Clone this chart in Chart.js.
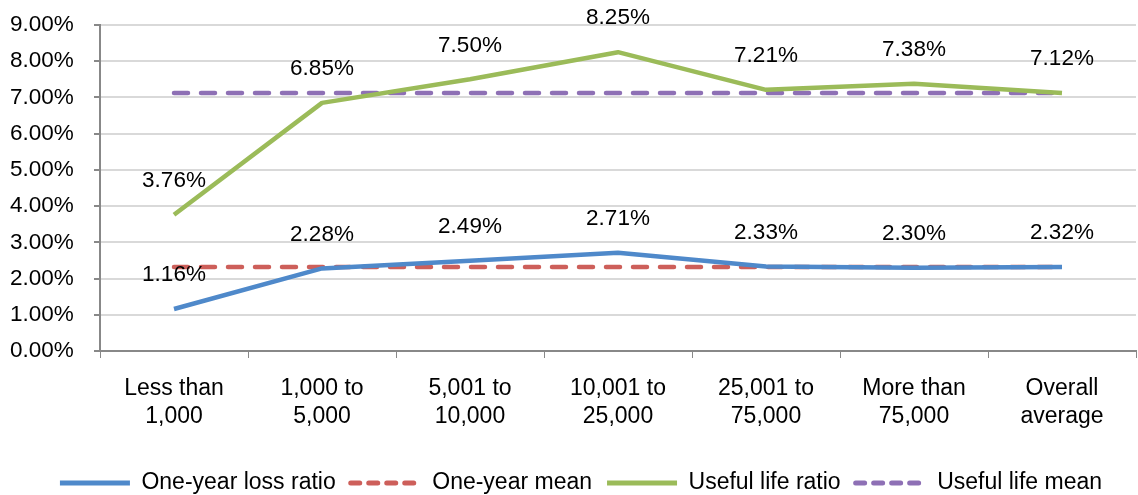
<!DOCTYPE html>
<html>
<head>
<meta charset="utf-8">
<title>Loss ratios by size</title>
<script src="https://cdn.jsdelivr.net/npm/chart.js@4/dist/chart.umd.min.js"></script>
<style>
  html, body { margin: 0; padding: 0; background: #fff; }
  #wrap { width: 1138px; height: 495px; }
</style>
</head>
<body>
<div id="wrap"><canvas id="chart"></canvas></div>
<script>
  // Data
  var categories = [
    ['Less than', '1,000'],
    ['1,000 to', '5,000'],
    ['5,001 to', '10,000'],
    ['10,001 to', '25,000'],
    ['25,001 to', '75,000'],
    ['More than', '75,000'],
    ['Overall', 'average']
  ];
  var oneYearLoss = [1.16, 2.28, 2.49, 2.71, 2.33, 2.30, 2.32];
  var oneYearMean = [2.32, 2.32, 2.32, 2.32, 2.32, 2.32, 2.32];
  var usefulLife = [3.76, 6.85, 7.50, 8.25, 7.21, 7.38, 7.12];
  var usefulLifeMean = [7.12, 7.12, 7.12, 7.12, 7.12, 7.12, 7.12];

  var FONT = '"Liberation Sans", Arial, sans-serif';

  /** Draw value labels above the solid series */
  var valueLabels = {
    id: 'valueLabels',
    afterDatasetsDraw: function (chart) {
      var ctx = chart.ctx;
      ctx.save();
      ctx.font = '22.5px ' + FONT;
      ctx.fillStyle = '#000';
      ctx.textAlign = 'center';
      ctx.textBaseline = 'middle';
      chart.data.datasets.forEach(function (ds, i) {
        if (!ds.showLabels) return;
        var meta = chart.getDatasetMeta(i);
        meta.data.forEach(function (pt, j) {
          ctx.fillText(ds.data[j].toFixed(2) + '%', pt.x, pt.y - 34);
        });
      });
      ctx.restore();
    }
  };

  /** Nudge the legend a bit to the right, as in the original */
  var legendShift = {
    id: 'legendShift',
    afterLayout: function (chart) {
      if (!chart.legend) return;
      chart.legend.left += 8;
      chart.legend.right += 8;
    }
  };

  function series(label, data, color, dashed, labels) {
    return {
      label: label,
      data: data,
      borderColor: color,
      backgroundColor: color,
      borderWidth: 4.5,
      borderDash: dashed ? [14, 13] : [],
      borderCapStyle: dashed ? 'round' : 'butt',
      borderJoinStyle: 'round',
      pointRadius: 0,
      pointHoverRadius: 0,
      pointStyle: 'line',
      tension: 0,
      fill: false,
      showLabels: labels
    };
  }

  // legend samples: keep the dash pattern (point style drops it)
  function legendLabels(chart) {
    var items = Chart.defaults.plugins.legend.labels.generateLabels(chart);
    items.forEach(function (item) {
      var ds = chart.data.datasets[item.datasetIndex];
      var dashed = ds.borderDash && ds.borderDash.length;
      item.strokeStyle = ds.borderColor;
      item.lineWidth = 5;
      item.lineDash = dashed ? [9, 9] : [];
      item.lineCap = dashed ? 'round' : 'butt';
    });
    return items;
  }

  new Chart(document.getElementById('chart'), {
    type: 'line',
    data: {
      labels: categories,
      datasets: [
        series('One-year loss ratio', oneYearLoss, '#4F89CA', false, true),
        series('One-year mean', oneYearMean, '#CD5F5A', true, false),
        series('Useful life ratio', usefulLife, '#9BBB59', false, true),
        series('Useful life mean', usefulLifeMean, '#8E70B5', true, false)
      ]
    },
    options: {
      responsive: true,
      maintainAspectRatio: false,
      animation: false,
      events: [],
      layout: { padding: { top: 25, right: 2, left: 10, bottom: -9.5 } },
      plugins: {
        tooltip: { enabled: false },
        legend: {
          position: 'bottom',
          labels: {
            usePointStyle: true,
            pointStyle: 'line',
            pointStyleWidth: 70,
            padding: 15,
            color: '#000',
            font: { family: FONT, size: 23, lineHeight: 1 },
            generateLabels: legendLabels
          }
        }
      },
      scales: {
        x: {
          offset: true,
          grid: {
            drawOnChartArea: false,
            drawTicks: true,
            tickLength: 7,
            tickColor: '#888',
            offset: true
          },
          border: { color: '#888', width: 2 },
          ticks: {
            color: '#000',
            padding: 17,
            maxRotation: 0,
            font: { family: FONT, size: 23, lineHeight: 1.22 }
          },
          afterFit: function (s) { s.height = 105.5; }
        },
        y: {
          min: 0,
          max: 9,
          ticks: {
            stepSize: 1,
            color: '#000',
            padding: 2,
            crossAlign: 'far',
            font: { family: FONT, size: 22.5 },
            callback: function (v) { return v.toFixed(2) + '%'; }
          },
          grid: { color: '#D9D9D9', lineWidth: 2, tickColor: '#888', tickLength: 6 },
          border: { color: '#888', width: 2 },
          afterFit: function (s) { s.width = 90; }
        }
      }
    },
    plugins: [valueLabels, legendShift]
  });
</script>
</body>
</html>
